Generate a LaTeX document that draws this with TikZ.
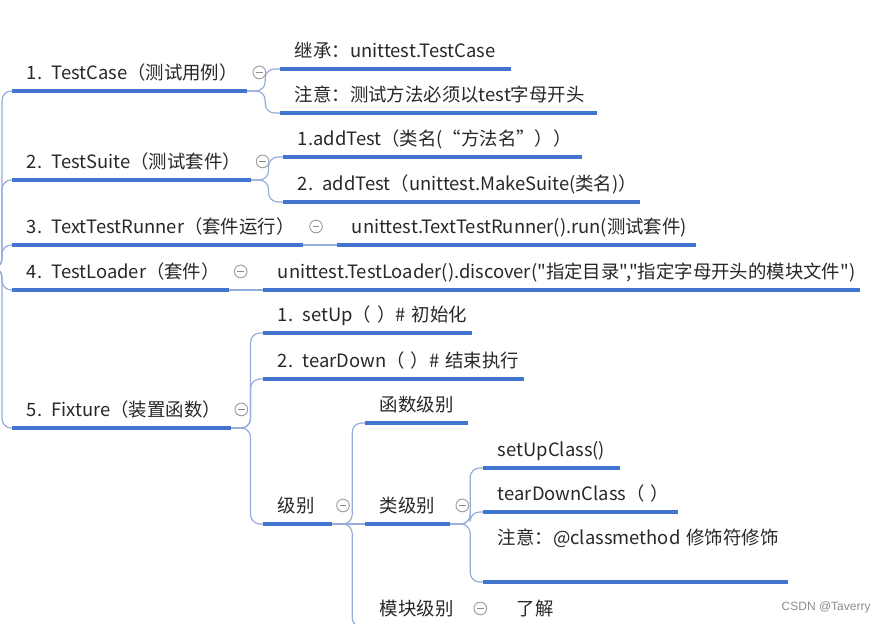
\documentclass[tikz,border=0pt]{standalone}
\usepackage{fontspec}
\setmainfont{Noto Sans CJK SC}[Ligatures=TeXOff]
\newfontfamily\wmfont{Liberation Sans}
\usepackage{xcolor}
\usepackage{tikz}
\usetikzlibrary{positioning}
\definecolor{mapblue}{RGB}{66,118,206}
\definecolor{linkblue}{RGB}{150,172,220}
\definecolor{inkgray}{RGB}{40,40,40}

\begin{document}
\begin{tikzpicture}[
  x=0.75pt,y=-0.75pt,
  item/.style={anchor=south west,text width=#1,align=left,inner xsep=11pt,
    inner ysep=4.5pt,text height=14.4pt,text depth=4pt,text=inkgray,
    font=\fontsize{13.8pt}{16pt}\selectfont,
    execute at begin node=\hbox\bgroup,execute at end node=\egroup},
  uline/.style={draw=mapblue,line width=2.6pt},
  link/.style={draw=linkblue,line width=0.9pt,rounded corners=7pt},
  fold/.style={circle,draw=black!38,line width=0.7pt,minimum size=9.5pt,inner sep=0pt,
    path picture={\draw[black!45,line width=0.7pt]
      ([xshift=-2.4pt]path picture bounding box.center) --
      ([xshift=2.4pt]path picture bounding box.center);}},
  wmark/.style={font=\wmfont\fontsize{9pt}{11pt}\selectfont,text=black!45,anchor=west}
]
\useasboundingbox[fill=white] (0,0) rectangle (881,624);
% main branches
\node[item=154pt] (case) at (12,91) {1. TestCase（测试用例）};
\node[item=156.5pt] (suite) at (12,180) {2. TestSuite（测试套件）};
\node[item=195.5pt] (runner) at (12,245) {3. TextTestRunner（套件运行）};
\node[item=140pt] (loader) at (12,290) {4. TestLoader（套件）};
\node[item=141.5pt] (fixture) at (12,428) {5. Fixture（装置函数）};
% second level
\node[item=150.5pt] (inherit) at (280,69) {继承：unittest.TestCase};
\node[item=215pt] (prefix) at (280,113) {注意：测试方法必须以test字母开头};
\node[item=202pt] (addone) at (283,157) {1.addTest（类名(“方法名”））};
\node[item=245.5pt] (addtwo) at (283,202) {2. addTest（unittest.MakeSuite(类名)）};
\node[item=246.5pt] (run) at (337,245) {unittest.TextTestRunner().run(测试套件)};
\node[item=425.5pt] (discover) at (263,290)
  {unittest.TestLoader().discover("指定目录","指定字母开头的模块文件")};
\node[item=134.5pt] (setup) at (263,333) {1. setUp（ ）\# 初始化};
\node[item=173pt] (teardown) at (263,379) {2. tearDown（ ）\# 结束执行};
\node[item=29.5pt] (level) at (263,524) {级别};
% levels
\node[item=55pt] (funclevel) at (365,423) {函数级别};
\node[item=41.5pt] (classlevel) at (365,524) {类级别};
\node[item=55pt] (modlevel) at (365,627) {模块级别};
\node[item=80.5pt] (setupcls) at (483,468) {setUpClass()};
\node[item=123.5pt] (teardowncls) at (483,512) {tearDownClass（ ）};
\node[item=206.5pt,text depth=23.5pt] (clsnote) at (483,582) {注意：@classmethod 修饰符修饰};
\node[item=38pt] (aware) at (502,627) {了解};
% collapse marks
\node[fold,right=4pt of case] (casefold) {};
\node[fold,right=4pt of suite] (suitefold) {};
\node[fold,right=5pt of runner] (runnerfold) {};
\node[fold,right=4pt of loader] (loaderfold) {};
\node[fold,right=3pt of fixture] (fixturefold) {};
\node[fold,right=3pt of level] (levelfold) {};
\node[fold,right=4pt of classlevel] (classfold) {};
\node[fold,right=4pt of modlevel] (modfold) {};
\node[wmark] (credit) at (777,607) {CSDN @Taverry};
% trunk
\coordinate (root) at (-14,268);
\draw[link] (root) -- ++(16,0) |- (case.south west);
\draw[link] (root) -- ++(16,0) |- (suite.south west);
\draw[link] (root) -- ++(16,0) |- (runner.south west);
\draw[link] (root) -- ++(16,0) |- (loader.south west);
\draw[link] (root) -- ++(16,0) |- (fixture.south west);
% branches
\draw[link] (case.south east) -- ++(18,0) |- (inherit.south west);
\draw[link] (case.south east) -- ++(18,0) |- (prefix.south west);
\draw[link] (suite.south east) -- ++(18,0) |- (addone.south west);
\draw[link] (suite.south east) -- ++(18,0) |- (addtwo.south west);
\draw[link] (runner.south east) -- (run.south west);
\draw[link] (loader.south east) -- (discover.south west);
\draw[link] (fixture.south east) -- ++(20,0) |- (setup.south west);
\draw[link] (fixture.south east) -- ++(20,0) |- (teardown.south west);
\draw[link] (fixture.south east) -- ++(20,0) |- (level.south west);
\draw[link] (level.south east) -- ++(20,0) |- (funclevel.south west);
\draw[link] (level.south east) -- (classlevel.south west);
\draw[link] (level.south east) -- ++(20,0) |- (modlevel.south west);
\draw[link] (classlevel.south east) -- ++(20,0) |- (setupcls.south west);
\draw[link] (classlevel.south east) -- ++(20,0) |- (teardowncls.south west);
\draw[link] (classlevel.south east) -- ++(20,0) |- (clsnote.south west);
\draw[link] (modlevel.south east) -- (aware.south west);
% underlines
\foreach \n in {case,suite,runner,loader,fixture,inherit,prefix,addone,addtwo,run,
    discover,setup,teardown,level,funclevel,classlevel,modlevel,setupcls,
    teardowncls,clsnote,aware}
  \draw[uline] (\n.south west) -- (\n.south east);
\end{tikzpicture}
\end{document}
